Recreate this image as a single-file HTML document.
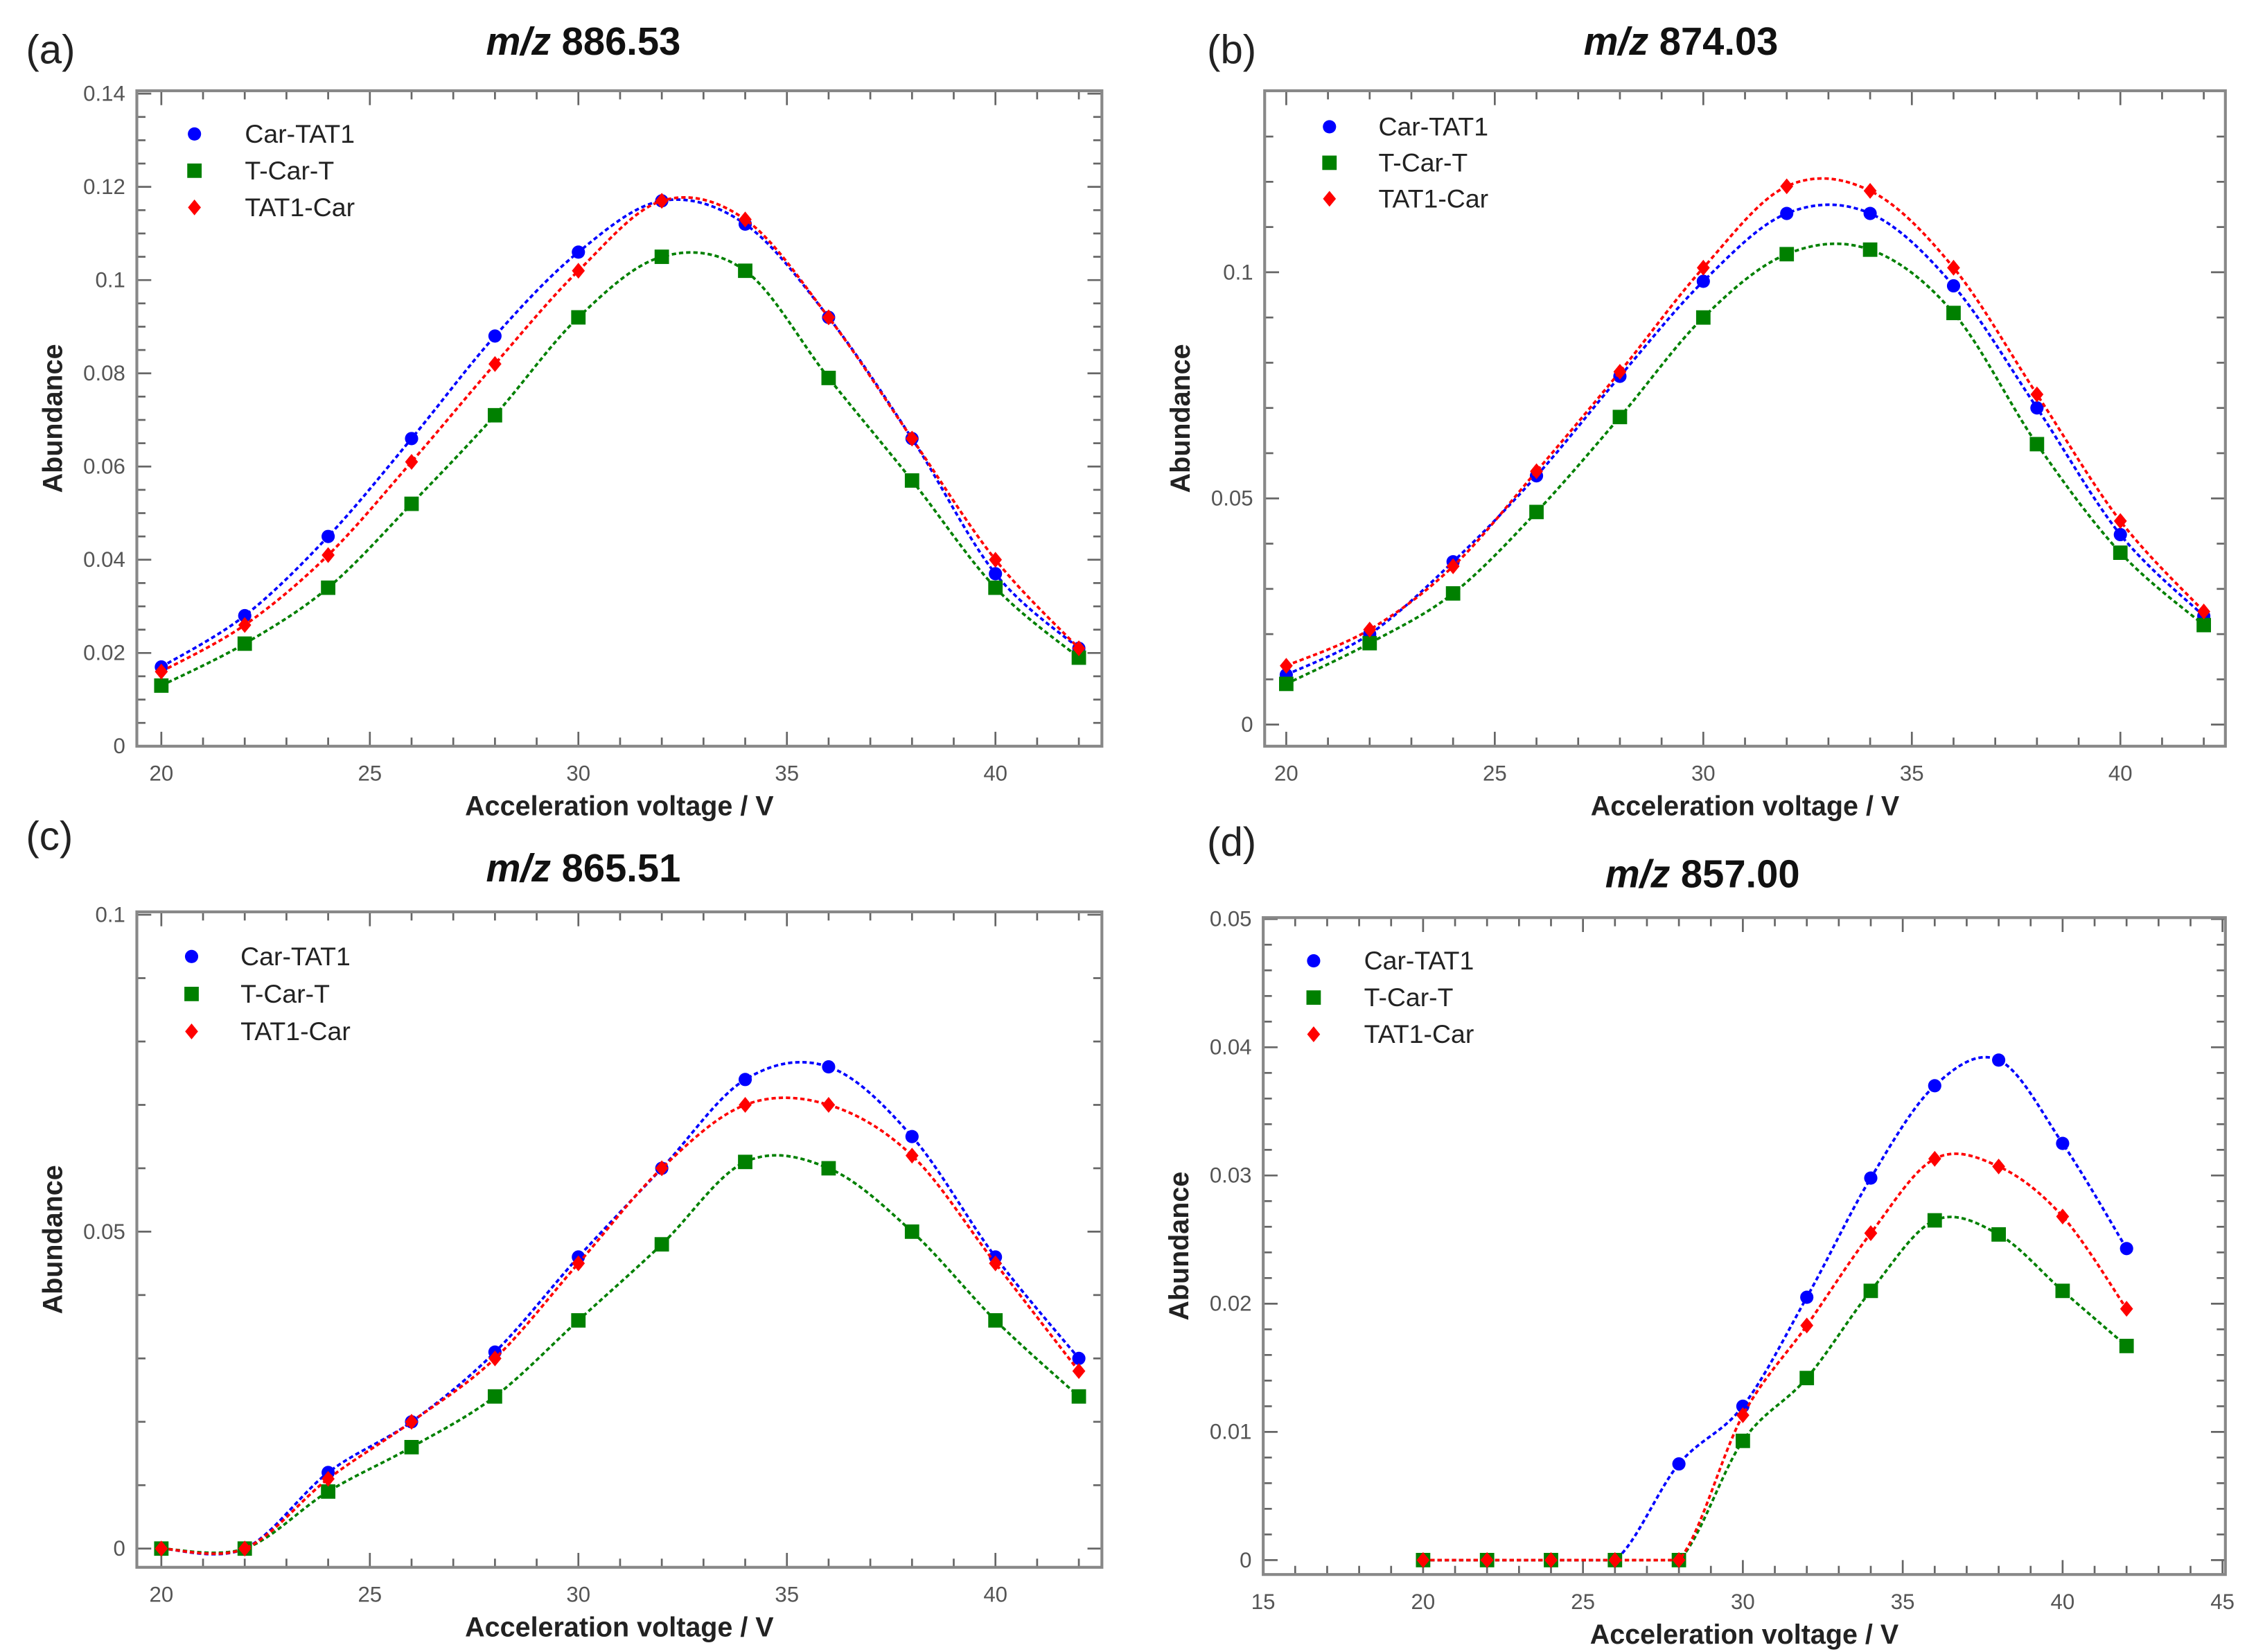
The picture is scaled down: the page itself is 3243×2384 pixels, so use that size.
<!DOCTYPE html>
<html><head><meta charset="utf-8"><style>
html,body{margin:0;padding:0;background:#fff}
svg{display:block}
text{font-family:"Liberation Sans","DejaVu Sans",sans-serif}
</style></head><body>
<svg id="fig" width="3243" height="2384" viewBox="0 0 1560 1146.8" xmlns="http://www.w3.org/2000/svg"></svg>
<script>
const xVals = [20,22,24,26,28,30,32,34,36,38,40,42];
const seriesNames = ["Car-TAT1","T-Car-T","TAT1-Car"];
const aBlue  = [0.017,0.028,0.045,0.066,0.088,0.106,0.117,0.112,0.092,0.066,0.037,0.021];
const aGreen = [0.013,0.022,0.034,0.052,0.071,0.092,0.105,0.102,0.079,0.057,0.034,0.019];
const aRed   = [0.016,0.026,0.041,0.061,0.082,0.102,0.117,0.113,0.092,0.066,0.040,0.021];
const bBlue  = [0.011,0.020,0.036,0.055,0.077,0.098,0.113,0.113,0.097,0.070,0.042,0.024];
const bGreen = [0.009,0.018,0.029,0.047,0.068,0.090,0.104,0.105,0.091,0.062,0.038,0.022];
const bRed   = [0.013,0.021,0.035,0.056,0.078,0.101,0.119,0.118,0.101,0.073,0.045,0.025];
const cBlue  = [0,0,0.012,0.020,0.031,0.046,0.060,0.074,0.076,0.065,0.046,0.030];
const cGreen = [0,0,0.009,0.016,0.024,0.036,0.048,0.061,0.060,0.050,0.036,0.024];
const cRed   = [0,0,0.011,0.020,0.030,0.045,0.060,0.070,0.070,0.062,0.045,0.028];
const dBlue  = [0,0,0,0,0.0075,0.012,0.0205,0.0298,0.037,0.039,0.0325,0.0243];
const dGreen = [0,0,0,0,0,0.0093,0.0142,0.021,0.0265,0.0254,0.021,0.0167];
const dRed   = [0,0,0,0,0,0.0113,0.0183,0.0255,0.0313,0.0307,0.0268,0.0196];
const aYTicks = ["0","0.02","0.04","0.06","0.08","0.1","0.12","0.14"];
const bYTicks = ["0","0.05","0.1"];
const cYTicks = ["0","0.05","0.1"];
const dYTicks = ["0","0.01","0.02","0.03","0.04","0.05"];
const abcXTicks = ["20","25","30","35","40"];
const dXTicks = ["15","20","25","30","35","40","45"];

const NS="http://www.w3.org/2000/svg";
const svg=document.getElementById('fig');
function mk(tag,attrs,parent){const e=document.createElementNS(NS,tag);for(const k in attrs)e.setAttribute(k,attrs[k]);(parent||svg).appendChild(e);return e;}

const panels=[
 {id:'a',letter:'(a)',lx:18,ly:44,title:'886.53',tx:405,ty:38,box:[95,63,765,518],xd:[20,42],xp:[112,749],yd:[0,0.14],yp:[518,65],ymaj:0.02,ymin:0.005,xmaj:5,xmin:1,xstart:20,yt:aYTicks,xt:abcXTicks,data:[aBlue,aGreen,aRed],leg:[135,170,93,25.5],clamp:false},
 {id:'b',letter:'(b)',lx:838,ly:44,title:'874.03',tx:1167,ty:38,box:[878,63,1545,518],xd:[20,42],xp:[893,1530],yd:[0,0.1],yp:[503,189],ymaj:0.05,ymin:0.01,xmaj:5,xmin:1,xstart:20,yt:bYTicks,xt:abcXTicks,data:[bBlue,bGreen,bRed],leg:[923,957,88,25],clamp:false},
 {id:'c',letter:'(c)',lx:18,ly:590,title:'865.51',tx:405,ty:612,box:[95,633,765,1088],xd:[20,42],xp:[112,749],yd:[0,0.1],yp:[1075,635],ymaj:0.05,ymin:0.01,xmaj:5,xmin:1,xstart:20,yt:cYTicks,xt:abcXTicks,data:[cBlue,cGreen,cRed],leg:[133,167,664,26],clamp:false},
 {id:'d',letter:'(d)',lx:838,ly:594,title:'857.00',tx:1182,ty:616,box:[877,637,1545,1093],xd:[15,45],xp:[877,1543],yd:[0,0.05],yp:[1083,638],ymaj:0.01,ymin:0.002,xmaj:5,xmin:1,xstart:15,yt:dYTicks,xt:dXTicks,data:[dBlue,dGreen,dRed],leg:[912,947,667,25.5],clamp:true}
];
const colors=['#0000ff','#008000','#ff0000'];

function spline(pts,clamp){
  let d='M'+pts[0][0]+','+pts[0][1];
  for(let i=0;i<pts.length-1;i++){
    const p0=pts[Math.max(i-1,0)],p1=pts[i],p2=pts[i+1],p3=pts[Math.min(i+2,pts.length-1)];
    let c1=[p1[0]+(p2[0]-p0[0])/6,p1[1]+(p2[1]-p0[1])/6];
    let c2=[p2[0]-(p3[0]-p1[0])/6,p2[1]-(p3[1]-p1[1])/6];
    if(clamp){
      const lo=Math.min(p1[1],p2[1]),hi=Math.max(p1[1],p2[1]);
      if(p1[1]===p0[1]||p2[1]===p3[1]||p1[1]===p2[1]){
        c1[1]=Math.min(hi,Math.max(lo,c1[1]));c2[1]=Math.min(hi,Math.max(lo,c2[1]));
      }
    }
    d+=' C'+c1[0]+','+c1[1]+' '+c2[0]+','+c2[1]+' '+p2[0]+','+p2[1];
  }
  return d;
}
function marker(g,k,x,y){
  let m;
  if(k===0){m=mk('circle',{cx:x,cy:y,r:4.6,fill:colors[0]},g);}
  else if(k===1){m=mk('rect',{x:x-5,y:y-5,width:10,height:10,fill:colors[1]},g);}
  else {m=mk('polygon',{points:`${x},${y-5.5} ${x+4.5},${y} ${x},${y+5.5} ${x-4.5},${y}`,fill:colors[2]},g);}
  return m;
}

panels.forEach(p=>{
  const g=mk('g',{});
  
  
  const X=v=>p.xp[0]+(v-p.xd[0])*(p.xp[1]-p.xp[0])/(p.xd[1]-p.xd[0]);
  const Y=v=>p.yp[0]+(v-p.yd[0])*(p.yp[1]-p.yp[0])/(p.yd[1]-p.yd[0]);
  const [L,T,R,B]=p.box;
  const lt=mk('text',{x:p.lx,y:p.ly,'font-size':28,fill:'#222'},g);lt.textContent=p.letter;
  
  const tt=mk('text',{x:p.tx,y:p.ty,'font-size':27,'font-weight':'bold','text-anchor':'middle',fill:'#111'},g);
  
  const ts=mk('tspan',{'font-style':'italic'},tt);ts.textContent='m/z';
  const ts2=mk('tspan',{},tt);ts2.textContent=' '+p.title;
  const tk=mk('g',{stroke:'#666','stroke-width':1.3},g);
  
  for(let v=p.xstart;v<=p.xd[1]+1e-9;v+=p.xmin){
    const x=X(v);if(x<L-0.5||x>R+0.5)continue;
    const major=Math.abs(v%p.xmaj)<1e-9;const len=major?10:6;
    mk('line',{x1:x,y1:B,x2:x,y2:B-len},tk);mk('line',{x1:x,y1:T,x2:x,y2:T+len},tk);
  }
  for(let i=-2;i<=Math.round(p.yd[1]/p.ymin)+8;i++){
    const v=i*p.ymin;const y=Y(v);if(y<T+0.5||y>B-0.5)continue;
    const major=Math.abs(Math.round(v/p.ymaj)*p.ymaj-v)<1e-9;const len=major?10:6;
    mk('line',{x1:L,y1:y,x2:L+len,y2:y},tk);mk('line',{x1:R,y1:y,x2:R-len,y2:y},tk);
  }
  const bx=mk('rect',{x:L,y:T,width:R-L,height:B-T,fill:'none',stroke:'#888','stroke-width':2},g);
  
  p.yt.forEach(s=>{const t=mk('text',{x:L-8,y:Y(parseFloat(s))+5,'font-size':15,'text-anchor':'end',fill:'#555'},g);t.textContent=s;
    });
  p.xt.forEach(s=>{const t=mk('text',{x:X(parseFloat(s)),y:B+24,'font-size':15,'text-anchor':'middle',fill:'#555'},g);t.textContent=s;
    });
  const xa=mk('text',{x:(L+R)/2,y:B+48,'font-size':19,'font-weight':'bold','text-anchor':'middle',fill:'#222'},g);xa.textContent='Acceleration voltage / V';
  
  const ya=mk('text',{x:0,y:0,'font-size':19,'font-weight':'bold','text-anchor':'middle',fill:'#222',transform:`translate(${L-52},${(T+B)/2}) rotate(-90)`},g);ya.textContent='Abundance';
  
  p.data.forEach((arr,k)=>{
    const sg=mk('g',{},g);
    
    
    const pts=arr.map((v,i)=>[X(xVals[i]),Y(v)]);
    const ln=mk('path',{d:spline(pts,p.clamp),fill:'none',stroke:colors[k],'stroke-width':1.8,'stroke-dasharray':'3,2'},sg);
    
    pts.forEach(pt=>{const m=marker(sg,k,pt[0],pt[1]);
      });
  });
  const lg=mk('g',{},g);
  
  seriesNames.forEach((n,k)=>{
    const y=p.leg[2]+k*p.leg[3];
    const e=mk('g',{},lg);
    
    marker(e,k,p.leg[0],y);
    const t=mk('text',{x:p.leg[1],y:y+6,'font-size':18,fill:'#222'},e);t.textContent=n;
  });
});
</script>
</body></html>
